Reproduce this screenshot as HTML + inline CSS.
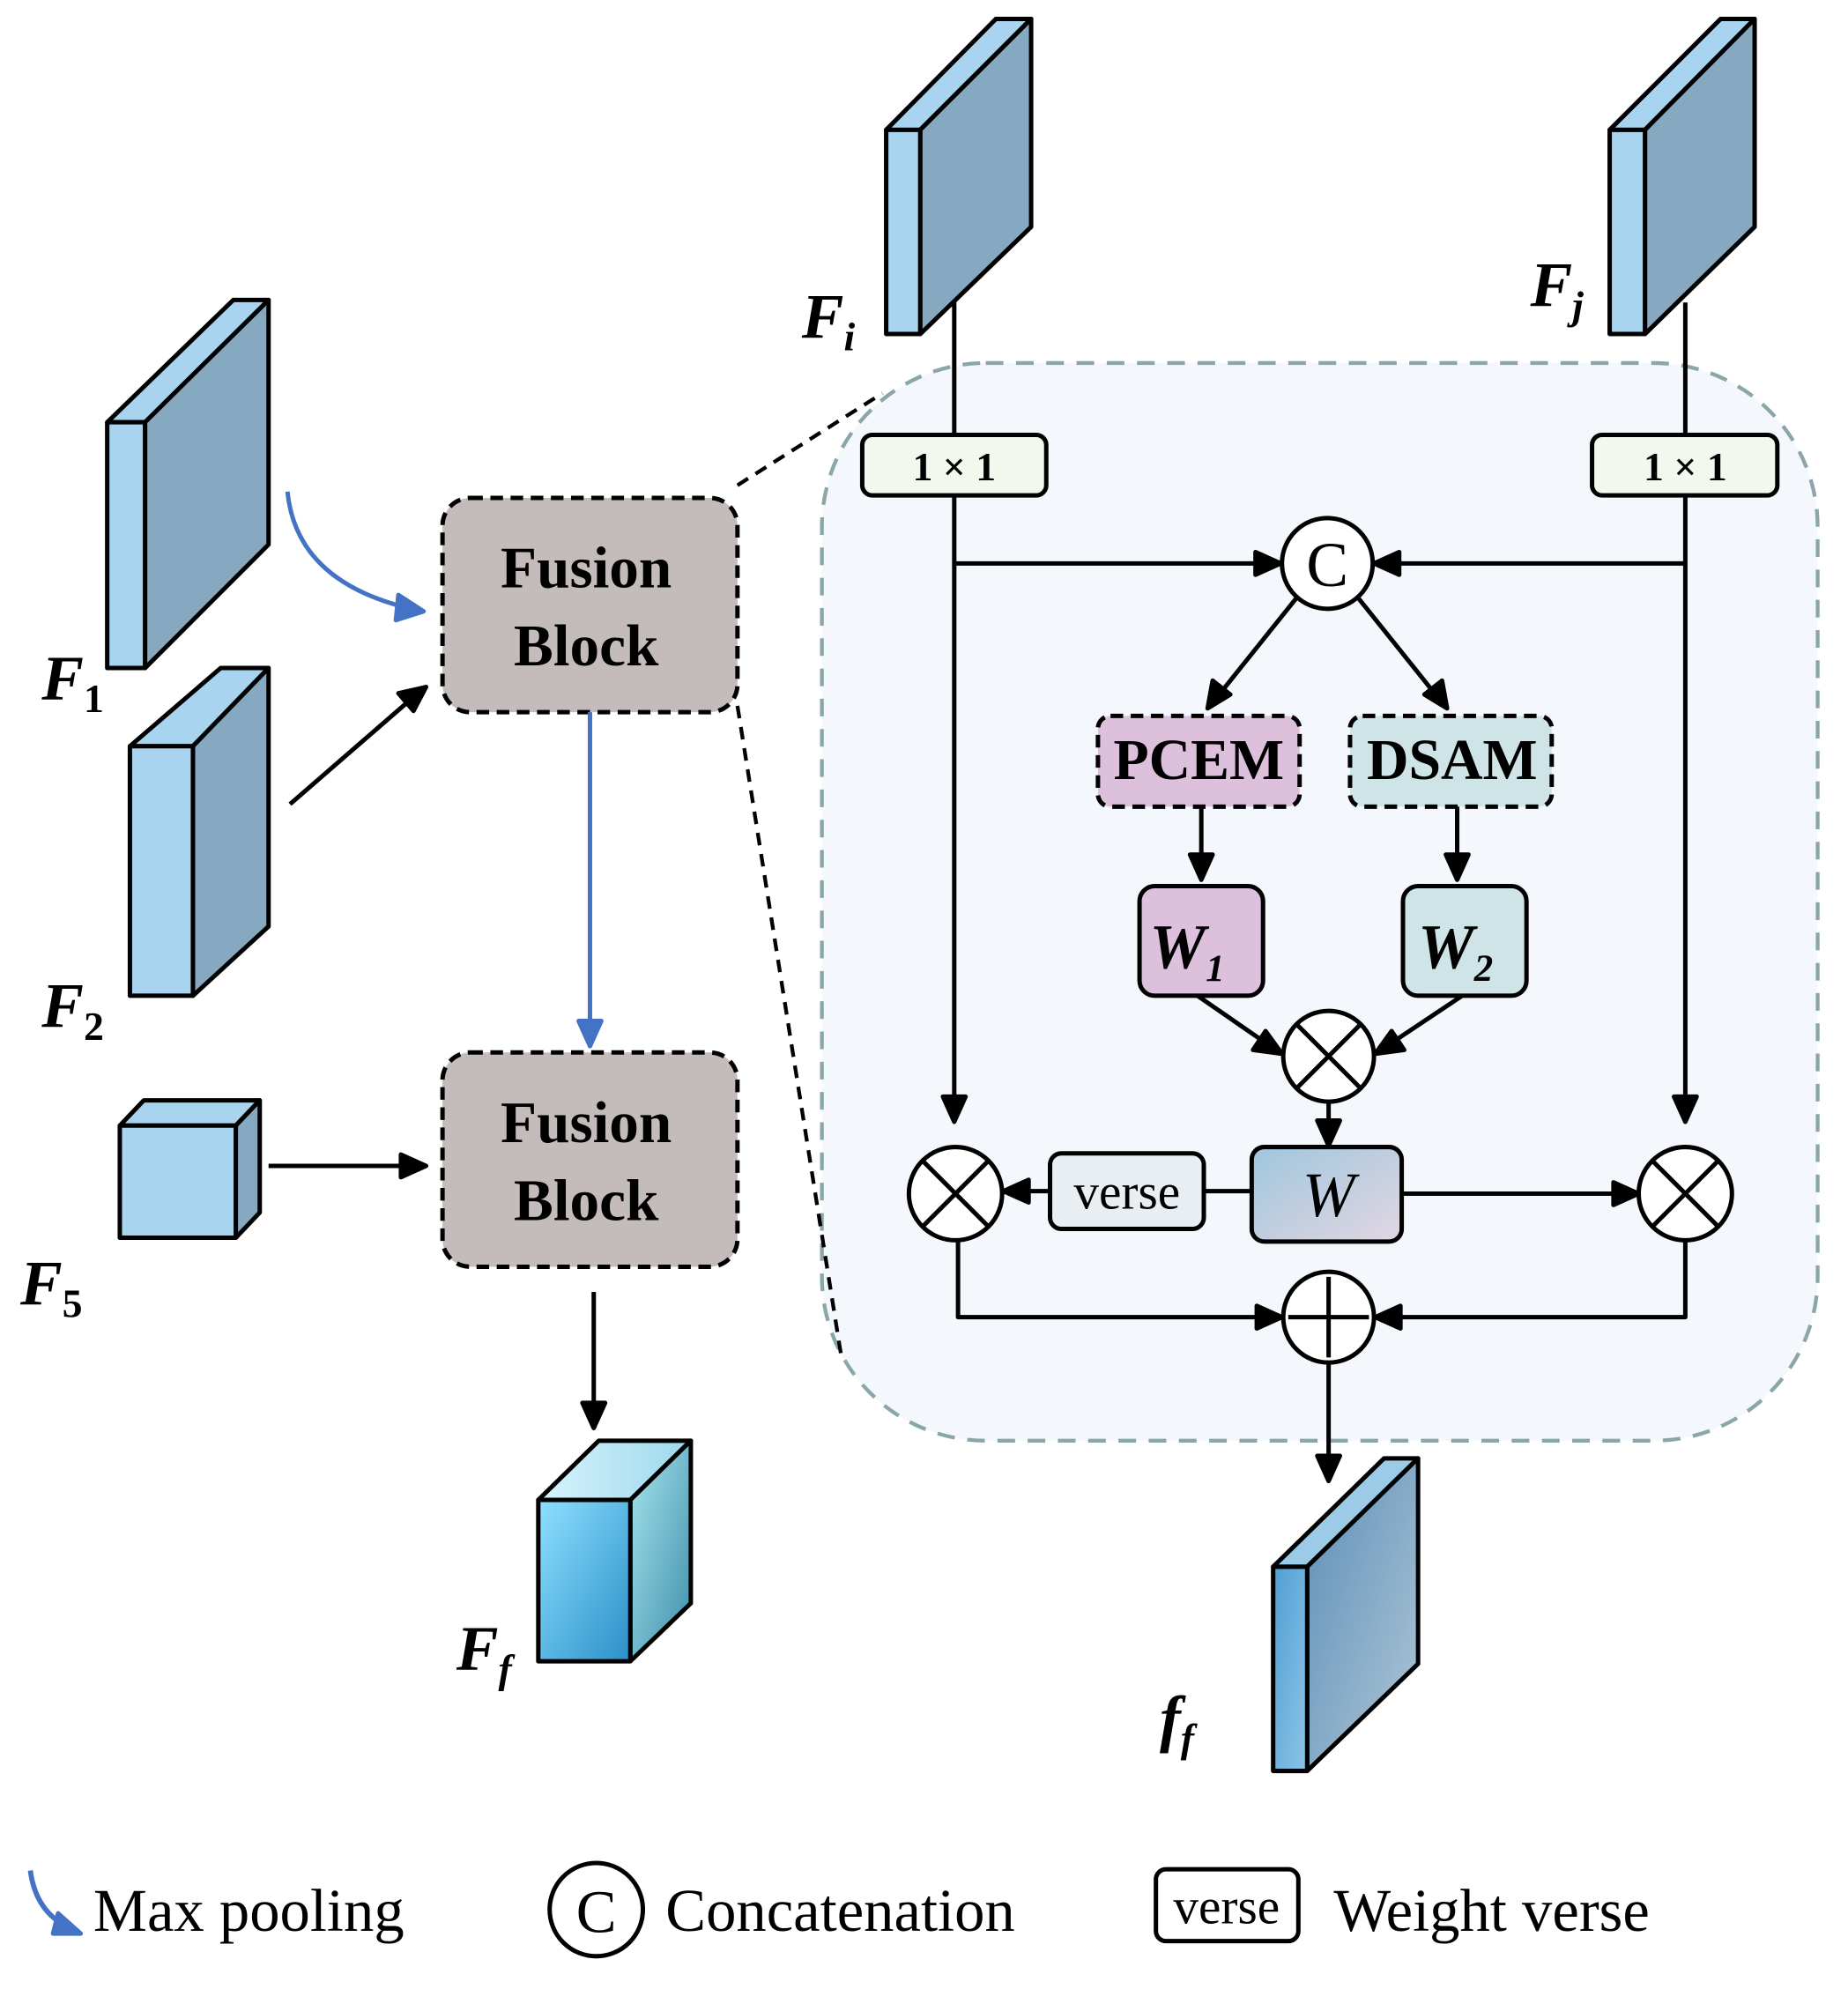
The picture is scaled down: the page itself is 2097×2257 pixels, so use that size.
<!DOCTYPE html>
<html><head><meta charset="utf-8"><style>
html,body{margin:0;padding:0;background:#fff}
svg{display:block}
text{font-family:"Liberation Serif",serif}
</style></head><body>
<svg width="2097" height="2257" viewBox="0 0 1466 1578" xmlns="http://www.w3.org/2000/svg">
<defs>
<linearGradient id="wg" x1="0" y1="0" x2="1" y2="1"><stop offset="0" stop-color="#9fc6dd"/><stop offset="1" stop-color="#e2d6e2"/></linearGradient>
<linearGradient id="cf" x1="0" y1="0" x2="1" y2="1"><stop offset="0" stop-color="#8fe0ff"/><stop offset="1" stop-color="#2a8fc8"/></linearGradient>
<linearGradient id="cs" x1="0" y1="0" x2="1" y2="1"><stop offset="0" stop-color="#a8e6ee"/><stop offset="1" stop-color="#3d8eaa"/></linearGradient>
<linearGradient id="ct" x1="0" y1="0" x2="1" y2="0"><stop offset="0" stop-color="#d8f4fc"/><stop offset="1" stop-color="#9cd8ec"/></linearGradient>
<linearGradient id="ff" x1="0" y1="0" x2="1" y2="1"><stop offset="0" stop-color="#4f9fd4"/><stop offset="1" stop-color="#8ec4e6"/></linearGradient>
<linearGradient id="fs" x1="0" y1="0" x2="1" y2="1"><stop offset="0" stop-color="#5b8fb8"/><stop offset="1" stop-color="#b0c6d6"/></linearGradient>
</defs>
<g stroke="#000" stroke-width="3.5" stroke-linejoin="round">
<rect x="652" y="288" width="790" height="855" rx="130" fill="#f4f8fc" stroke="#8aa6a8" stroke-width="3" stroke-dasharray="14 10"/>
<line x1="585" y1="385" x2="700" y2="312" stroke-dasharray="10 7" stroke-width="3"/>
<line x1="585" y1="560" x2="668" y2="1080" stroke-dasharray="10 7" stroke-width="3"/>
<polygon points="85,335 185,238 213,238 115,335" fill="#a8d4f0"/>
<polygon points="115,335 213,238 213,432 115,530" fill="#86a8c0"/>
<rect x="85" y="335" width="30" height="195" fill="#a8d4f0"/>
<polygon points="103,592 175,530 213,530 153,592" fill="#a8d4f0"/>
<polygon points="153,592 213,530 213,735 153,790" fill="#86a8c0"/>
<rect x="103" y="592" width="50" height="198" fill="#a8d4f0"/>
<polygon points="95,893 114,873 206,873 187,893" fill="#a8d4f0"/>
<polygon points="187,893 206,873 206,962 187,982" fill="#86a8c0"/>
<rect x="95" y="893" width="92" height="89" fill="#a8d4f0"/>
<polygon points="427,1190 475,1143 548,1143 500,1190" fill="url(#ct)"/>
<polygon points="500,1190 548,1143 548,1272 500,1318" fill="url(#cs)"/>
<rect x="427" y="1190" width="73" height="128" fill="url(#cf)"/>
<polygon points="703,103 790,15 818,15 730,103" fill="#a8d4f0"/>
<polygon points="730,103 818,15 818,180 730,265" fill="#86a8c0"/>
<rect x="703" y="103" width="27" height="162" fill="#a8d4f0"/>
<polygon points="1277,103 1365,15 1392,15 1305,103" fill="#a8d4f0"/>
<polygon points="1305,103 1392,15 1392,180 1305,265" fill="#86a8c0"/>
<rect x="1277" y="103" width="28" height="162" fill="#a8d4f0"/>
<polygon points="1010,1243 1098,1157 1125,1157 1037,1243" fill="#9ccbe8"/>
<polygon points="1037,1243 1125,1157 1125,1320 1037,1405" fill="url(#fs)"/>
<rect x="1010" y="1243" width="27" height="162" fill="url(#ff)"/>
<rect x="351" y="395" width="234" height="170" rx="22" fill="#c4bcba" stroke-dasharray="10 6"/>
<rect x="351" y="835" width="234" height="170" rx="22" fill="#c4bcba" stroke-dasharray="10 6"/>
<path d="M228,390 Q235,460 322,482" fill="none" stroke="#4472c4"/>
<polygon points="336,485 316,472 314,492" fill="#4472c4" stroke="#4472c4"/>
<line x1="230" y1="638" x2="328" y2="553"/><polygon points="338,545 316,550 328,564" fill="#000"/>
<line x1="468" y1="565" x2="468" y2="812" stroke="#4472c4"/><polygon points="468,830 459,810 477,810" fill="#4472c4" stroke="#4472c4"/>
<line x1="213" y1="925" x2="320" y2="925"/><polygon points="338,925 318,916 318,934" fill="#000"/>
<line x1="471" y1="1025" x2="471" y2="1115"/><polygon points="471,1133 462,1113 480,1113" fill="#000"/>
<line x1="757" y1="240" x2="757" y2="872"/><polygon points="757,890 748,870 766,870" fill="#000"/>
<line x1="1337" y1="240" x2="1337" y2="872"/><polygon points="1337,890 1328,870 1346,870" fill="#000"/>
<rect x="684" y="345" width="146" height="48" rx="8" fill="#f2f8ee"/>
<rect x="1263" y="345" width="147" height="48" rx="8" fill="#f2f8ee"/>
<line x1="757" y1="447" x2="1000" y2="447"/><polygon points="1016,447 996,438 996,456" fill="#000"/>
<line x1="1337" y1="447" x2="1106" y2="447"/><polygon points="1090,447 1110,438 1110,456" fill="#000"/>
<circle cx="1053" cy="447" r="36" fill="#fff"/>
<line x1="1028" y1="475" x2="968" y2="550"/><polygon points="958,562 962,540 976,551" fill="#000"/>
<line x1="1078" y1="475" x2="1138" y2="550"/><polygon points="1148,562 1130,551 1144,540" fill="#000"/>
<rect x="871" y="568" width="160" height="72" rx="10" fill="#dcc0dc" stroke-dasharray="10 6"/>
<rect x="1071" y="568" width="160" height="72" rx="10" fill="#cfe4e6" stroke-dasharray="10 6"/>
<line x1="953" y1="640" x2="953" y2="682"/><polygon points="953,698 944,678 962,678" fill="#000"/>
<line x1="1156" y1="640" x2="1156" y2="682"/><polygon points="1156,698 1147,678 1165,678" fill="#000"/>
<rect x="904" y="703" width="98" height="87" rx="12" fill="#dcc0dc"/>
<rect x="1113" y="703" width="98" height="87" rx="12" fill="#cfe4e6"/>
<line x1="950" y1="790" x2="1005" y2="828"/><polygon points="1017,836 1004,818 994,833" fill="#000"/>
<line x1="1160" y1="790" x2="1103" y2="828"/><polygon points="1091,836 1114,833 1104,818" fill="#000"/>
<circle cx="1054" cy="838" r="36" fill="#fff"/>
<line x1="1029" y1="813" x2="1079" y2="863"/><line x1="1079" y1="813" x2="1029" y2="863"/>
<line x1="1054" y1="874" x2="1054" y2="893"/><polygon points="1054,909 1045,889 1063,889" fill="#000"/>
<line x1="955" y1="945" x2="993" y2="945"/>
<line x1="833" y1="945" x2="812" y2="945"/><polygon points="796,945 816,936 816,954" fill="#000"/>
<line x1="1112" y1="947" x2="1283" y2="947"/><polygon points="1300,947 1280,938 1280,956" fill="#000"/>
<rect x="833" y="915" width="122" height="60" rx="9" fill="#e8eef2"/>
<rect x="993" y="910" width="119" height="75" rx="10" fill="url(#wg)"/>
<circle cx="758" cy="947" r="37" fill="#fff"/>
<line x1="732" y1="921" x2="784" y2="973"/><line x1="784" y1="921" x2="732" y2="973"/>
<circle cx="1337" cy="947" r="37" fill="#fff"/>
<line x1="1311" y1="921" x2="1363" y2="973"/><line x1="1363" y1="921" x2="1311" y2="973"/>
<polyline points="760,984 760,1045 1000,1045" fill="none"/><polygon points="1017,1045 997,1036 997,1054" fill="#000"/>
<polyline points="1337,984 1337,1045 1108,1045" fill="none"/><polygon points="1091,1045 1111,1036 1111,1054" fill="#000"/>
<circle cx="1054" cy="1045" r="36" fill="#fff"/>
<line x1="1054" y1="1013" x2="1054" y2="1077"/><line x1="1022" y1="1045" x2="1086" y2="1045"/>
<line x1="1054" y1="1081" x2="1054" y2="1157"/><polygon points="1054,1175 1045,1155 1063,1155" fill="#000"/>
<path d="M24,1484 Q28,1515 52,1528" fill="none" stroke="#4472c4" stroke-width="4"/>
<polygon points="64,1534 46,1518 42,1534" fill="#4472c4" stroke="#4472c4"/>
<circle cx="473" cy="1515" r="37" fill="#fff"/>
<rect x="917" y="1483" width="113" height="57" rx="8" fill="#fff"/>
</g>
<g font-weight="bold" font-size="47" text-anchor="middle">
<text x="465" y="466">Fusion</text><text x="465" y="528">Block</text>
<text x="465" y="906">Fusion</text><text x="465" y="968">Block</text>
<text x="951" y="618" font-size="46">PCEM</text>
<text x="1152" y="618" font-size="46">DSAM</text>
<text x="757" y="381" font-size="32">1 × 1</text>
<text x="1337" y="381" font-size="32">1 × 1</text>
</g>
<text x="1053" y="465" font-size="50" text-anchor="middle">C</text>
<text x="894" y="959" font-size="40" text-anchor="middle">verse</text>
<text x="1054" y="965" font-size="50" font-style="italic" text-anchor="middle">W</text>
<g font-weight="bold" font-style="italic" font-size="50">
<text x="912" y="768">W<tspan font-size="30" dy="10">1</tspan></text>
<text x="1125" y="768">W<tspan font-size="30" dy="10">2</tspan></text>
<text x="33" y="555">F<tspan font-size="32" dy="10" font-style="normal">1</tspan></text>
<text x="33" y="815">F<tspan font-size="32" dy="10" font-style="normal">2</tspan></text>
<text x="16" y="1035">F<tspan font-size="32" dy="10" font-style="normal">5</tspan></text>
<text x="362" y="1325">F<tspan font-size="32" dy="10">f</tspan></text>
<text x="636" y="268">F<tspan font-size="32" dy="10">i</tspan></text>
<text x="1214" y="243">F<tspan font-size="32" dy="10">j</tspan></text>
<text x="920" y="1380">f<tspan font-size="32" dy="10">f</tspan></text>
</g>
<g font-size="48">
<text x="74" y="1532">Max pooling</text>
<text x="473" y="1533" text-anchor="middle">C</text>
<text x="528" y="1532">Concatenation</text>
<text x="973" y="1526" font-size="40" text-anchor="middle">verse</text>
<text x="1058" y="1532">Weight verse</text>
</g>
</svg>
</body></html>
